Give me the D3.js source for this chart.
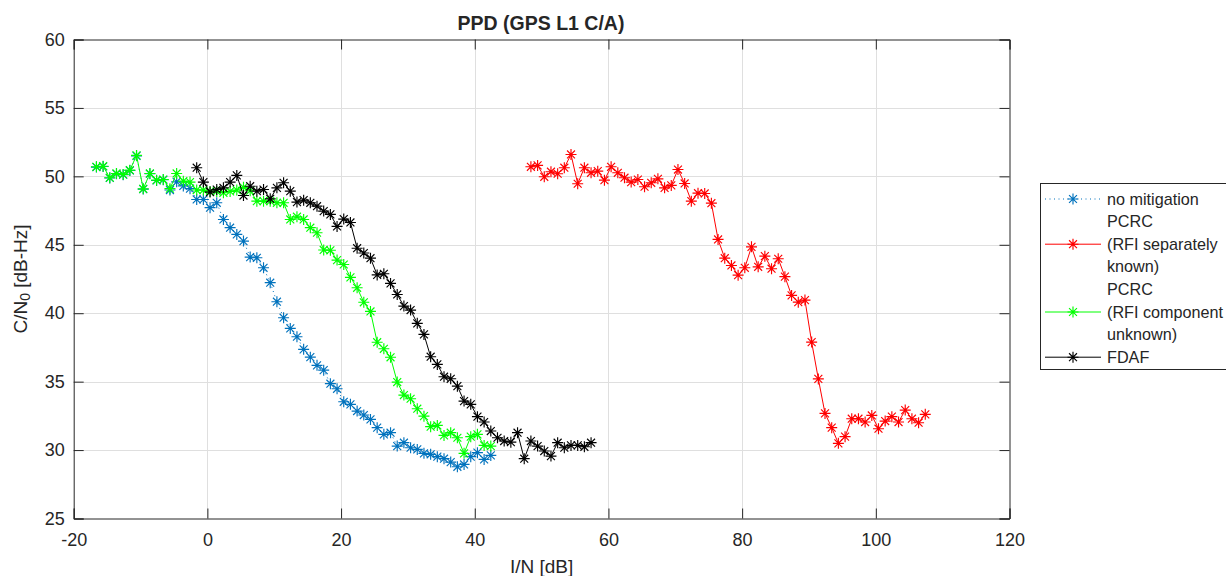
<!DOCTYPE html>
<html lang="en">
<head>
<meta charset="utf-8">
<title>PPD (GPS L1 C/A)</title>
<script src="https://d3js.org/d3.v7.min.js"></script>
<style>
body { margin: 0; background: #fff; }
text { font-family: "Liberation Sans", Arial, sans-serif; fill: #262626; }
</style>
</head>
<body>
<div id="container"></div>
<script>
// I/N grid [dB] shared by "no mitigation" and "PCRC (RFI component unknown)"
const xLow = [-16.6, -15.6, -14.6, -13.6, -12.6, -11.6, -10.6, -9.6, -8.6, -7.6,
    -6.6, -5.6, -4.6, -3.6, -2.6, -1.6, -0.6, 0.4, 1.4, 2.4,
    3.4, 4.4, 5.4, 6.4, 7.4, 8.4, 9.4, 10.4, 11.4, 12.4,
    13.4, 14.4, 15.4, 16.4, 17.4, 18.4, 19.4, 20.4, 21.4, 22.4,
    23.4, 24.4, 25.4, 26.4, 27.4, 28.4, 29.4, 30.4, 31.4, 32.4,
    33.4, 34.4, 35.4, 36.4, 37.4, 38.4, 39.4, 40.4, 41.4, 42.4];
const xFdaf = [-1.6, -0.6, 0.4, 1.4, 2.4, 3.4, 4.4, 5.4, 6.4, 7.4,
    8.4, 9.4, 10.4, 11.4, 12.4, 13.4, 14.4, 15.4, 16.4, 17.4,
    18.4, 19.4, 20.4, 21.4, 22.4, 23.4, 24.4, 25.4, 26.4, 27.4,
    28.4, 29.4, 30.4, 31.4, 32.4, 33.4, 34.4, 35.4, 36.4, 37.4,
    38.4, 39.4, 40.4, 41.4, 42.4, 43.4, 44.4, 45.4, 46.4, 47.4,
    48.4, 49.4, 50.4, 51.4, 52.4, 53.4, 54.4, 55.4, 56.4, 57.4];
const xKnown = [48.4, 49.4, 50.4, 51.4, 52.4, 53.4, 54.4, 55.4, 56.4, 57.4,
    58.4, 59.4, 60.4, 61.4, 62.4, 63.4, 64.4, 65.4, 66.4, 67.4,
    68.4, 69.4, 70.4, 71.4, 72.4, 73.4, 74.4, 75.4, 76.4, 77.4,
    78.4, 79.4, 80.4, 81.4, 82.4, 83.4, 84.4, 85.4, 86.4, 87.4,
    88.4, 89.4, 90.4, 91.4, 92.4, 93.4, 94.4, 95.4, 96.4, 97.4,
    98.4, 99.4, 100.4, 101.4, 102.4, 103.4, 104.4, 105.4, 106.4, 107.4];

// C/N0 [dB-Hz]
const cnNoMit = [50.68, 50.72, 49.88, 50.19, 50.12, 50.43, 51.5, 49.07, 50.19, 49.7,
    49.75, 49.0, 49.6, 49.3, 49.1, 48.31, 48.31, 47.71, 48.07, 46.85,
    46.25, 45.76, 45.27, 44.1, 44.05, 43.32, 42.23, 40.84, 39.67, 38.89,
    38.28, 37.36, 36.79, 36.19, 35.84, 34.85, 34.48, 33.53, 33.34, 32.85,
    32.56, 32.24, 31.64, 31.15, 31.27, 30.29, 30.54, 30.17, 30.05, 29.76,
    29.69, 29.52, 29.37, 29.12, 28.78, 28.95, 29.52, 29.81, 29.32, 29.61];
const cnKnown = [50.7, 50.8, 49.97, 50.34, 50.19, 50.63, 51.6, 49.46, 50.63, 50.26,
    50.38, 49.72, 50.7, 50.26, 49.9, 49.58, 49.77, 49.24, 49.53, 49.82,
    49.16, 49.34, 50.5, 49.48, 48.19, 48.77, 48.75, 48.04, 45.39, 44.02,
    43.49, 42.78, 43.32, 44.85, 43.39, 44.17, 43.25, 43.98, 42.67, 41.3,
    40.81, 40.96, 37.89, 35.2, 32.68, 31.64, 30.49, 30.98, 32.29, 32.29,
    32.05, 32.53, 31.56, 32.12, 32.44, 32.05, 32.92, 32.29, 32.0, 32.61];
const cnUnknown = [50.7, 50.74, 49.9, 50.21, 50.14, 50.45, 51.53, 49.09, 50.21, 49.72,
    49.77, 49.1, 50.21, 49.65, 49.58, 49.0, 49.0, 48.9, 48.9, 48.8,
    48.9, 49.0, 49.2, 48.95, 48.19, 48.19, 48.19, 48.07, 48.07, 46.85,
    47.05, 46.85, 46.25, 45.88, 44.62, 44.6, 43.88, 43.56, 42.62, 41.86,
    40.8, 40.13, 37.88, 37.4, 36.78, 34.97, 34.02, 33.75, 33.02, 32.48,
    31.71, 31.8, 31.07, 31.27, 30.9, 29.76, 30.98, 31.15, 30.34, 30.29];
const cnFdaf = [50.63, 49.58, 48.85, 49.04, 49.16, 49.58, 50.07, 48.6, 49.28, 48.92,
    49.04, 48.36, 49.16, 49.53, 48.92, 48.12, 48.26, 48.07, 47.82, 47.46,
    47.22, 46.34, 46.88, 46.63, 44.75, 44.4, 44.02, 42.8, 42.88, 42.18,
    41.37, 40.52, 40.23, 39.26, 38.45, 36.82, 36.26, 35.36, 35.21, 34.67,
    33.58, 33.34, 32.44, 32.05, 31.39, 30.9, 30.66, 30.58, 31.27, 29.37,
    30.66, 30.29, 29.93, 29.56, 30.54, 30.17, 30.34, 30.34, 30.24, 30.54];

const xTicks = [-20, 0, 20, 40, 60, 80, 100, 120];
const yTicks = [25, 30, 35, 40, 45, 50, 55, 60];

const series = [
    {label: ["no mitigation"], x: xLow, y: cnNoMit, color: "#0072bd", dash: "1,3.5"},
    {label: ["PCRC", "(RFI separately", "known)"], x: xKnown, y: cnKnown, color: "#ff0000", dash: null},
    {label: ["PCRC", "(RFI component", "unknown)"], x: xLow, y: cnUnknown, color: "#00ff00", dash: null},
    {label: ["FDAF"], x: xFdaf, y: cnFdaf, color: "#000000", dash: null}
];

const width = 1226;
const height = 576;
const axLeft = 73.7, axRight = 1009.5, axTop = 39.5, axBottom = 518.5;

const svg = d3.select("#container").append("svg")
    .attr("width", width)
    .attr("height", height);

const xScale = d3.scaleLinear().domain([-20, 120]).range([axLeft, axRight]);
const yScale = d3.scaleLinear().domain([25, 60]).range([axBottom, axTop]);

// grid
svg.append("g")
    .selectAll("line.gx")
    .data(xTicks.slice(1, -1))
    .enter().append("line")
    .attr("x1", d => Math.round(xScale(d)) + 0.5).attr("x2", d => Math.round(xScale(d)) + 0.5)
    .attr("y1", axTop).attr("y2", axBottom)
    .attr("stroke", "#dfdfdf");
svg.append("g")
    .selectAll("line.gy")
    .data(yTicks.slice(1, -1))
    .enter().append("line")
    .attr("y1", d => Math.round(yScale(d)) + 0.5).attr("y2", d => Math.round(yScale(d)) + 0.5)
    .attr("x1", axLeft).attr("x2", axRight)
    .attr("stroke", "#dfdfdf");

// axes, ticks pointing inwards like matlab
const fmt = d => String(d);
const xAxis = d3.axisBottom(xScale).tickValues(xTicks).tickSize(-10).tickPadding(21.5).tickFormat(fmt);
const yAxis = d3.axisLeft(yScale).tickValues(yTicks).tickSize(-10).tickPadding(9).tickFormat(fmt);

const gx = svg.append("g").attr("transform", "translate(0," + axBottom + ")").call(xAxis);
const gy = svg.append("g").attr("transform", "translate(" + axLeft + ",0)").call(yAxis);
svg.append("g").attr("transform", "translate(0," + axTop + ")")
    .call(d3.axisTop(xScale).tickValues(xTicks).tickSize(-10).tickFormat(""));
svg.append("g").attr("transform", "translate(" + axRight + ",0)")
    .call(d3.axisRight(yScale).tickValues(yTicks).tickSize(-10).tickFormat(""));

svg.selectAll(".domain").attr("stroke", "#262626");
svg.selectAll(".tick line").attr("stroke", "#262626");
svg.selectAll(".tick text").style("font-size", "18px").attr("fill", "#262626");
gx.selectAll(".tick text").attr("dy", "0.35em");

// title and labels
svg.append("text")
    .attr("x", 541).attr("y", 30)
    .attr("text-anchor", "middle")
    .style("font-size", "19.5px").style("font-weight", "bold")
    .attr("fill", "#000")
    .text("PPD (GPS L1 C/A)");

svg.append("text")
    .attr("x", (axLeft + axRight) / 2).attr("y", 573)
    .attr("text-anchor", "middle")
    .style("font-size", "19px")
    .text("I/N [dB]");

const ylab = svg.append("text")
    .attr("transform", "translate(27," + ((axTop + axBottom) / 2) + ") rotate(-90)")
    .attr("text-anchor", "middle")
    .style("font-size", "19px");
ylab.append("tspan").text("C/N");
ylab.append("tspan").attr("baseline-shift", "-22%").style("font-size", "14px").text("0");
ylab.append("tspan").text(" [dB-Hz]");

function star(r) {
    const d = r * 0.72;
    return "M" + (-r) + ",0L" + r + ",0M0," + (-r) + "L0," + r +
        "M" + (-d) + "," + (-d) + "L" + d + "," + d +
        "M" + (-d) + "," + d + "L" + d + "," + (-d);
}

const plot = svg.append("g");
series.forEach(function(s) {
    const pts = s.x.map((v, i) => ({x: v, y: s.y[i]}));
    const line = d3.line().x(d => xScale(d.x)).y(d => yScale(d.y));
    const g = plot.append("g");
    g.append("path")
        .attr("d", line(pts))
        .attr("fill", "none")
        .attr("stroke", s.color)
        .attr("stroke-width", 1)
        .attr("stroke-dasharray", s.dash);
    g.selectAll("path.m")
        .data(pts)
        .enter().append("path")
        .attr("transform", d => "translate(" + xScale(d.x) + "," + yScale(d.y) + ")")
        .attr("d", star(5.5))
        .attr("fill", "none")
        .attr("stroke", s.color)
        .attr("stroke-width", 1.15);
});

// legend
const lg = svg.append("g");
lg.append("rect")
    .attr("x", 1040.5).attr("y", 183.5)
    .attr("width", 200).attr("height", 186)
    .attr("fill", "#fff").attr("stroke", "#262626");
const rowH = 22.6;
let row = 0;
series.forEach(function(s) {
    const n = s.label.length;
    const cy = 199 + rowH * (row + (n - 1) / 2);
    lg.append("line")
        .attr("x1", 1045).attr("x2", 1101)
        .attr("y1", cy).attr("y2", cy)
        .attr("stroke", s.color)
        .attr("stroke-dasharray", s.dash);
    lg.append("path")
        .attr("transform", "translate(1073," + cy + ")")
        .attr("d", star(5.5))
        .attr("fill", "none")
        .attr("stroke", s.color)
        .attr("stroke-width", 1.15);
    s.label.forEach(function(t, i) {
        lg.append("text")
            .attr("x", 1107)
            .attr("y", 199 + rowH * (row + i))
            .attr("dy", "0.35em")
            .style("font-size", "16.2px")
            .attr("fill", "#000")
            .text(t);
    });
    row += n;
});
</script>
</body>
</html>
